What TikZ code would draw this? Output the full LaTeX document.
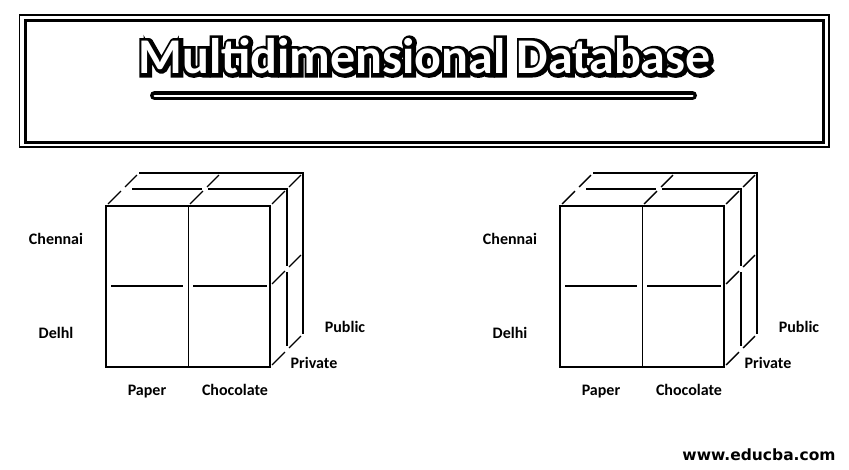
\documentclass[tikz,border=0pt]{standalone}
\usepackage{fontspec}
\setmainfont{Carlito}
\newfontfamily\webfont{DejaVu Sans}
\newfontfamily\titlestroke{Carlito Bold}[FakeBold=14]

\begin{document}
\begin{tikzpicture}[x=1pt, y=-1pt,
	titletext/.style={anchor=base, inner sep=0pt, font=\fontsize{50}{60}\selectfont\bfseries},
	titleedge/.style={anchor=base, inner sep=0pt, font=\titlestroke\fontsize{50}{60}\selectfont},
	axislabel/.style={anchor=base, inner sep=0pt, font=\fontsize{16}{19}\selectfont\bfseries},
	face/.style={draw, line width=2pt},
	layer/.style={draw, line width=1.8pt},
	depth/.style={draw, line width=1.4pt, shorten <=3pt, shorten >=3pt},
	]
	\useasboundingbox (0,0) rectangle (849,469);

	%Title frame
	\draw[line width=1.2pt] (19.8,15) rectangle (829,147);
	\draw[line width=3pt] (25.5,20.5) rectangle (823.5,142);

	%Title
	\node[titleedge, text=black] (shadow) at (425.5,74) {Multidimensional Database};
	\node[titletext, text=white] (title) at (424.5,73) {Multidimensional Database};
	\coordinate (ul1) at (154.5,95.5);
	\coordinate (ul2) at (692.5,95.5);
	\draw[line width=3.5pt, double=white, double distance=2pt, line cap=round] (ul1) -- (ul2);

	%Cubes
	\foreach \sx/\city in {0/Delhl,454/Delhi}{
	\begin{scope}[xshift=\sx pt]
		\foreach \n/\px/\py in {1/106/206, 2/188/206, 3/270/206, 4/270/286, 5/270/367}{
			\coordinate (a\n) at (\px,\py);
			\coordinate (b\n) at (\px+17,\py-17);
			\coordinate (c\n) at (\px+33,\py-33);
		}
		% front face
		\draw[face] (a1) rectangle (a5);
		\draw[line width=1pt] (a2) -- (188,367);
		\draw[face] (111,286) -- (183,286);
		\draw[face] (193,286) -- (267,286);
		% back layers
		\draw[layer, shorten <=9pt, shorten >=3pt] (b1) -- (b2);
		\draw[layer, shorten <=3pt, shorten >=3pt] (b2) -- (b3) -- (b4);
		\draw[layer, shorten <=3pt, shorten >=4pt] (b4) -- (b5);
		\draw[layer] (c1) -- (c3) -- (c5);
		% depth lines
		\foreach \n in {1,...,5}{
			\draw[depth] (a\n) -- (b\n);
			\draw[depth] (b\n) -- (c\n);
		}
		% labels
		\node[axislabel] (chennai) at (56,244) {Chennai};
		\node[axislabel] (delhi)   at (56,338) {\city};
		\node[axislabel] (public)  at (345,332) {Public};
		\node[axislabel] (private) at (314,368) {Private};
		\node[axislabel] (paper)   at (147,395) {Paper};
		\node[axislabel] (choco)   at (235,395) {Chocolate};
	\end{scope}
	}

	%Footer
	\node[anchor=base, inner sep=0pt, font=\webfont\fontsize{15.5}{18}\selectfont\bfseries] (web) at (759,460) {www.educba.com};
\end{tikzpicture}
\end{document}
